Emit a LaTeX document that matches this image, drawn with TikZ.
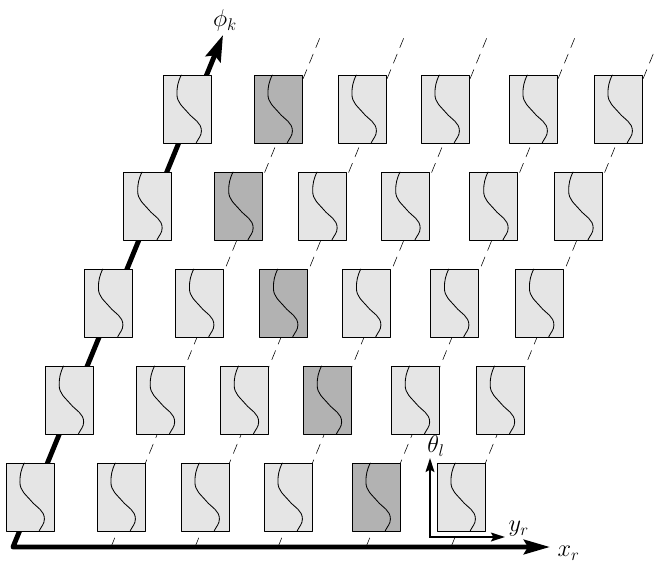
\documentclass[tikz,border=0pt]{standalone}
\usepackage{amsmath}
\usepackage{amssymb}
\usepackage{tikz}
\usetikzlibrary{positioning,arrows.meta}

\definecolor{celllight}{gray}{0.9}
\definecolor{celldark}{gray}{0.7}

\begin{document}
\begin{tikzpicture}[x=1cm,y=1cm, line cap=round, line join=round,
  lbl/.style={font=\fontsize{18}{21}\selectfont, inner sep=1pt},
  bigaxis/.style={line width=3.5pt},
  smallaxis/.style={line width=1.4pt, line join=miter},
  guide/.style={line width=0.4pt, dash pattern=on 7pt off 5pt}]
\useasboundingbox (-0.325,-0.375) rectangle (16.05,13.675);

% axis ends
\coordinate (O) at (0,0);
\coordinate (phitip) at (5.25,12.8);
\coordinate (xtip) at (13.425,0);

% guide lines along phi, one per column
\foreach \c/\off in {1/2.275,2/4.375,3/6.45,4/8.65,5/10.775} {
  \coordinate (g\c) at (\off+0.175,0);
  \coordinate (gt\c) at (\off+5.425,12.8);
  \draw[guide] (g\c) -- (gt\c);
}

% main axes
\draw[bigaxis, {Stealth[length=6.5mm,width=4mm,inset=1mm]}-{Stealth[length=6.5mm,width=3.6mm,inset=1mm]}]
  (phitip) -- (O) -- (xtip);

% cells
\foreach \r/\dk in {0/4,1/3,2/2,3/1,4/1} {
  \foreach \c/\off in {0/0,1/2.275,2/4.375,3/6.45,4/8.65,5/10.775} {
    \ifnum\c=\dk \def\cellfill{celldark}\else \def\cellfill{celllight}\fi
    \begin{scope}[shift={({\off-0.175+\r*0.98125},{0.4+\r*2.425})}]
      \filldraw[fill=\cellfill, draw=black, line width=0.6pt] (0,0) rectangle (1.2,1.7);
      \draw[line width=0.6pt] (0.456,1.7) to[out=-115,in=90] (0.348,1.224)
        to[out=-90,in=130] (0.63,0.75) to[out=-50,in=90] (0.96,0.3)
        to[out=-90,in=65] (0.828,0);
    \end{scope}
  }
}

% local frame
\coordinate (lo) at (10.425,0.25);
\coordinate (thtip) at (10.425,2.225);
\coordinate (ytip) at (12.3,0.25);
\draw[smallaxis, {Stealth[length=3.5mm,width=2.2mm,inset=0.6mm]}-{Stealth[length=3.5mm,width=2.2mm,inset=0.6mm]}]
  (thtip) -- (lo) -- (ytip);

% labels
\node[lbl, above=0.5mm of phitip, xshift=0.5mm] (philbl) {$\phi_k$};
\node[lbl, right=1.5mm of xtip, yshift=-1.5mm] (xlbl) {$x_r$};
\node[lbl, right=0.5mm of ytip, yshift=2mm] (ylbl) {$y_r$};
\node[lbl, above=0mm of thtip, xshift=1.5mm] (thlbl) {$\theta_l$};
\end{tikzpicture}
\end{document}
